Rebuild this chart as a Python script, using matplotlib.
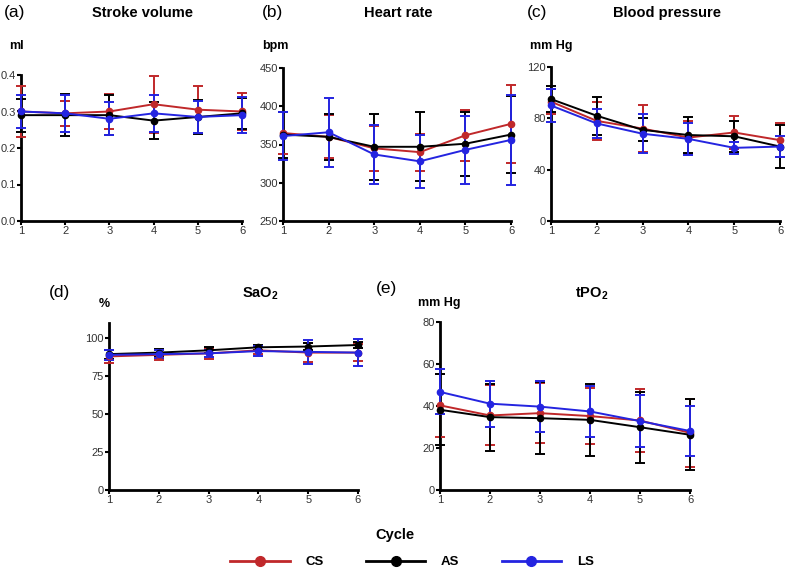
import matplotlib
matplotlib.use("Agg")
import matplotlib.pyplot as plt
from matplotlib.lines import Line2D
import numpy as np

plt.rcParams['font.family'] = ['Liberation Sans', 'DejaVu Sans']
plt.rcParams['mathtext.fontset'] = 'custom'
plt.rcParams['mathtext.bf'] = 'Liberation Sans:bold'
plt.rcParams['mathtext.rm'] = 'Liberation Sans'

cycles = [1, 2, 3, 4, 5, 6]
groups = ['CS', 'AS', 'LS']
colors = {'CS': '#c0282a', 'AS': '#000000', 'LS': '#2424e0'}

# stroke volume (ml)
sv_mean = {'CS': [0.300, 0.295, 0.300, 0.320, 0.305, 0.300],
           'AS': [0.290, 0.290, 0.290, 0.275, 0.285, 0.295],
           'LS': [0.300, 0.295, 0.280, 0.295, 0.285, 0.290]}
sv_err = {'CS': [0.070, 0.035, 0.048, 0.078, 0.065, 0.052],
          'AS': [0.045, 0.057, 0.055, 0.050, 0.047, 0.042],
          'LS': [0.045, 0.050, 0.045, 0.050, 0.045, 0.050]}

# heart rate (bpm)
hr_mean = {'CS': [365, 360, 345, 340, 362, 377],
           'AS': [363, 360, 347, 347, 351, 363],
           'LS': [361, 366, 337, 328, 343, 356]}
hr_err = {'CS': [28, 28, 29, 24, 33, 51],
          'AS': [30, 30, 43, 45, 42, 50],
          'LS': [31, 45, 39, 35, 44, 59]}

# blood pressure (mm Hg)
bp_mean = {'CS': [93, 78, 72, 65, 69, 63],
           'AS': [95, 82, 71, 67, 66, 58],
           'LS': [90, 76, 68, 64, 57, 58]}
bp_err = {'CS': [10, 15, 18.5, 13, 13, 13],
          'AS': [10, 15, 9, 14, 12, 16.5],
          'LS': [13, 11, 15, 12.5, 4.5, 8]}

# SaO2 (%)
sao2_mean = {'CS': [88, 89, 90, 92, 90.5, 90.5],
             'AS': [89.5, 90.5, 92, 94, 94.5, 95.5],
             'LS': [89, 89.5, 90, 91.5, 91, 90.5]}
sao2_err = {'CS': [4.5, 3.5, 3.5, 2.5, 6, 5.5],
            'AS': [3, 2.5, 2, 1.5, 2, 2],
            'LS': [3.5, 2.5, 2.5, 3.5, 8, 9]}

# tPO2 (mm Hg)
tpo2_mean = {'CS': [40.3, 35.5, 36.6, 35.2, 33.1, 27.2],
             'AS': [38.2, 34.7, 34.2, 33.4, 29.9, 26.3],
             'LS': [46.7, 41.1, 39.7, 37.4, 32.8, 28.1]}
tpo2_err = {'CS': [15, 14.3, 14.2, 13.3, 15.2, 16.2],
            'AS': [17, 16, 17, 17, 17, 17],
            'LS': [10.7, 11, 12.2, 12.3, 12.5, 12]}

W, H = 786, 572
fig = plt.figure(figsize=(W / 100, H / 100), dpi=100)


def box(x0, x1, y0, y1):
    return [x0 / W, 1 - y1 / H, (x1 - x0) / W, (y1 - y0) / H]


def ftext(x, y, s, **kw):
    fig.text(x / W, 1 - y / H, s, **kw)


def panel(rect, means, errs, ylim, yticks, yfmt):
    ax = fig.add_axes(rect)
    for g in ['CS', 'AS', 'LS']:
        ax.errorbar(cycles, means[g], yerr=errs[g], color=colors[g], lw=1.4,
                    marker='o', ms=4.5, capsize=3.5, capthick=1.4, elinewidth=1.4,
                    clip_on=False, zorder=3)
    ax.set_xlim(1, 6)
    ax.set_ylim(*ylim)
    ax.set_xticks(cycles)
    ax.set_yticks(yticks)
    ax.set_yticklabels([yfmt.format(v) for v in yticks])
    for s in ['top', 'right']:
        ax.spines[s].set_visible(False)
    for s in ['left', 'bottom']:
        ax.spines[s].set_linewidth(2)
    ax.tick_params(width=1.5, length=3, labelsize=8, labelcolor='#333333', pad=0.8)
    ax.patch.set_alpha(0)
    return ax


panel(box(21, 242, 75, 221), sv_mean, sv_err, (0, 0.4), [0, 0.1, 0.2, 0.3, 0.4], '{:.1f}')
panel(box(283, 511, 68, 221), hr_mean, hr_err, (250, 450), [250, 300, 350, 400, 450], '{:d}')
panel(box(551, 780, 67, 221), bp_mean, bp_err, (0, 120), [0, 40, 80, 120], '{:d}')
panel(box(109, 358, 323, 490), sao2_mean, sao2_err, (0, 110), [0, 25, 50, 75, 100], '{:d}')
panel(box(440, 690, 322, 490), tpo2_mean, tpo2_err, (0, 80), [0, 20, 40, 60, 80], '{:d}')

# panel letters
for x, y, s in [(4, 13, '(a)'), (262, 13, '(b)'), (527, 13, '(c)'),
                (49, 292, '(d)'), (376, 288, '(e)')]:
    ftext(x, y, s, fontsize=12.5, va='center', ha='left')

# titles
tkw = dict(fontsize=10.5, fontweight='bold', va='center', ha='center')
ftext(143, 13, 'Stroke volume', **tkw)
ftext(398, 13, 'Heart rate', **tkw)
ftext(667, 13, 'Blood pressure', **tkw)
ftext(260, 294, r'SaO$_\mathbf{2}$', **tkw)
ftext(592, 294, r'tPO$_\mathbf{2}$', **tkw)

# units
ukw = dict(fontsize=9, fontweight='bold', va='center', ha='left')
ftext(9, 46, 'ml', **ukw)
ftext(262, 46, 'bpm', **ukw)
ftext(530, 46, 'mm Hg', **ukw)
ftext(99, 304, '%', **ukw)
ftext(418, 303, 'mm Hg', **ukw)

ftext(395, 535, 'Cycle', fontsize=10.5, fontweight='bold', va='center', ha='center')

handles = [Line2D([], [], color=colors[g], lw=2, marker='o', ms=7) for g in groups]
leg = fig.legend(handles, groups, loc='center', bbox_to_anchor=(412 / W, 1 - 562 / H),
                 ncol=3, frameon=False, handlelength=4.5, columnspacing=3.2,
                 handletextpad=1.2, prop={'weight': 'bold', 'size': 9.5})

fig.savefig('out.png', dpi=100)
